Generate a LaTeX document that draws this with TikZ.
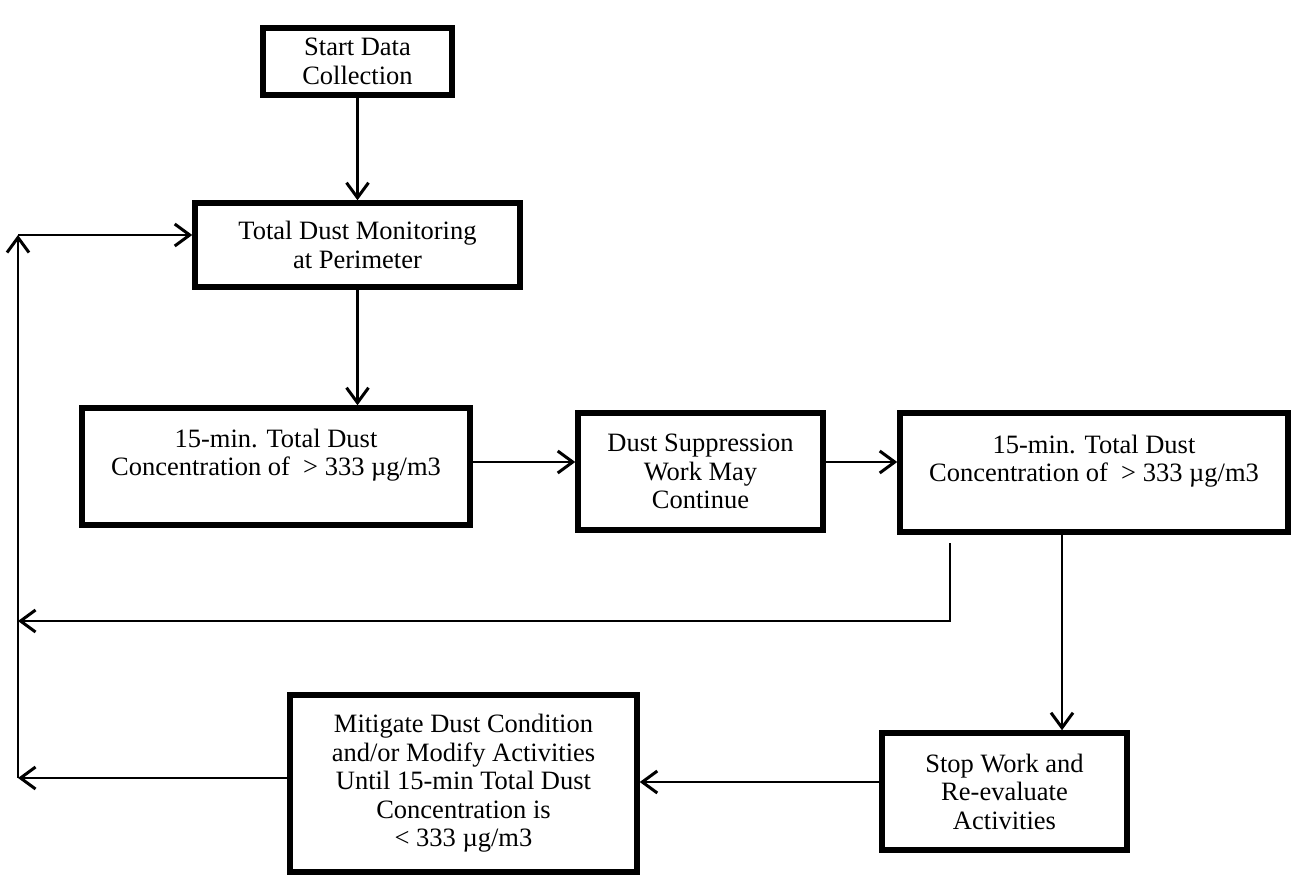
\documentclass[tikz,border=0pt]{standalone}
\usepackage{fontspec}
\setmainfont{Liberation Serif}
\usetikzlibrary{arrows.meta}
\begin{document}
\begin{tikzpicture}[x=1pt,y=-1pt,
  box/.style={draw=black, line width=5.5pt, rectangle, align=center, inner sep=0pt,
    font=\fontsize{26.5}{28.5}\selectfont},
  arr/.style={line width=2.4pt, -{Straight Barb[length=15pt,width=22pt,line width=3pt]}},
  ln/.style={line width=2.4pt}]
\useasboundingbox (0,0) rectangle (1292,880);
\fill[white] (0,0) rectangle (1292,880);
\node[box, minimum width=189pt, minimum height=67pt] (b1) at (357.5,61.5) {Start Data\\Collection};
\node[box, minimum width=325pt, minimum height=84pt] (b2) at (357.5,245) {Total Dust Monitoring\\at Perimeter};
\node[box, minimum width=388pt, minimum height=117pt] (b3) at (276,466.5) {15-min. Total Dust\\Concentration of \ > 333 µg/m3\\ ~};
\node[box, minimum width=245pt, minimum height=117pt] (b4) at (700.5,471.5) {Dust Suppression\\Work May\\Continue};
\node[box, minimum width=388pt, minimum height=119pt] (b5) at (1094,472.5) {15-min. Total Dust\\Concentration of \ > 333 µg/m3\\ ~};
\node[box, minimum width=245pt, minimum height=117pt] (b6) at (1004.5,791.5) {Stop Work and\\Re-evaluate\\Activities};
\node[box, minimum width=347pt, minimum height=177pt] (b7) at (463.5,783.5) {Mitigate Dust Condition\\and/or Modify Activities\\Until 15-min Total Dust\\Concentration is\\< 333 µg/m3};
\coordinate (ya) at (0,462);
\coordinate (fb) at (950,543);
\coordinate (fc) at (950,621);
\coordinate (lf) at (18,621);
\coordinate (lb) at (18,778);
\coordinate (lt) at (18,235);
\coordinate (xb) at (1062,0);
\draw[arr] (b1.south) -- (b2.north);
\draw[arr] (b2.south) -- (b2.south |- b3.north);
\draw[arr] (b3.east |- ya) -- (b4.west |- ya);
\draw[arr] (b4.east |- ya) -- (b5.west |- ya);
\draw[arr] (fb) -- (fc) -- (lf);
\draw[arr] (xb |- b5.south) -- (xb |- b6.north);
\draw[arr] (b6.west |- 0,782) -- (b7.east |- 0,782);
\draw[arr] (b7.west |- lb) -- (lb);
\draw[arr] (lb) -- (lt);
\draw[arr] (lt) -- (b2.west |- lt);
\end{tikzpicture}
\end{document}
